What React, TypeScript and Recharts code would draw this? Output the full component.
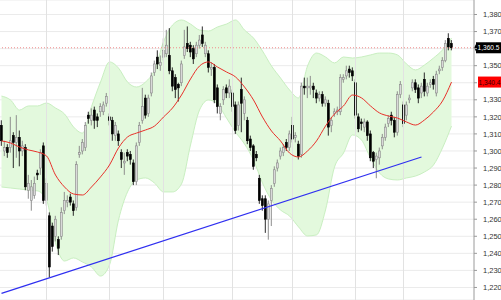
import React from 'react';
import { ComposedChart, Bar, Line, Area, XAxis, YAxis, CartesianGrid, ReferenceLine } from 'recharts';

const opens = [
  1315, 1300, 1302, 1302, 1309, 1305, 1308, 1300, 1302, 1277,
  1271, 1274, 1287, 1290, 1303, 1271, 1262, 1256, 1250, 1248,
  1250, 1265, 1270, 1273, 1269, 1267, 1298, 1300, 1302, 1321,
  1318, 1324, 1320, 1323, 1323, 1328, 1320, 1318, 1309, 1310,
  1299, 1293, 1299, 1298, 1293, 1282, 1305, 1318, 1331, 1322,
  1334, 1346, 1355, 1350, 1355, 1357, 1356, 1347, 1343, 1339,
  1340, 1356, 1363, 1362, 1360, 1357, 1362, 1368, 1357, 1357,
  1348, 1349, 1337, 1322, 1330, 1337, 1334, 1334, 1327, 1315,
  1336, 1322, 1318, 1307, 1303, 1298, 1284, 1272, 1272, 1260,
  1271, 1281, 1290, 1297, 1299, 1305, 1302, 1315, 1308, 1304,
  1298, 1338, 1337, 1337, 1338, 1334, 1331, 1333, 1328, 1328,
  1315, 1322, 1323, 1323, 1342, 1344, 1348, 1347, 1340, 1320,
  1317, 1314, 1317, 1310, 1299, 1295, 1296, 1303, 1308, 1316,
  1321, 1318, 1311, 1333, 1327, 1321, 1330, 1337, 1340, 1337,
  1334, 1342, 1334, 1339, 1342, 1334, 1347, 1349, 1353, 1366,
  1363,
];
const highs = [
  1318, 1306, 1304, 1320, 1311, 1321, 1312, 1306, 1304, 1286,
  1283, 1285, 1289, 1301, 1305, 1284, 1264, 1258, 1262, 1250,
  1267, 1276, 1274, 1275, 1271, 1294, 1303, 1307, 1317, 1323,
  1325, 1326, 1322, 1328, 1329, 1334, 1322, 1320, 1317, 1312,
  1301, 1299, 1301, 1300, 1295, 1305, 1317, 1337, 1333, 1333,
  1346, 1353, 1359, 1356, 1366, 1371, 1372, 1349, 1345, 1340,
  1353, 1371, 1373, 1364, 1362, 1364, 1368, 1373, 1364, 1359,
  1352, 1351, 1339, 1328, 1338, 1339, 1342, 1336, 1329, 1329,
  1343, 1332, 1320, 1309, 1304, 1300, 1286, 1274, 1274, 1271,
  1280, 1291, 1295, 1302, 1304, 1307, 1312, 1320, 1311, 1306,
  1340, 1343, 1343, 1344, 1340, 1336, 1335, 1335, 1332, 1330,
  1320, 1325, 1326, 1345, 1345, 1350, 1350, 1349, 1342, 1322,
  1319, 1319, 1318, 1312, 1300, 1299, 1302, 1310, 1316, 1321,
  1323, 1320, 1335, 1341, 1329, 1329, 1333, 1342, 1342, 1339,
  1340, 1346, 1340, 1342, 1344, 1347, 1350, 1355, 1365, 1369,
  1365,
];
const lows = [
  1303, 1297, 1296, 1299, 1290, 1296, 1291, 1297, 1277, 1272,
  1265, 1272, 1283, 1286, 1269, 1268, 1226, 1241, 1247, 1239,
  1248, 1263, 1267, 1268, 1262, 1265, 1296, 1298, 1300, 1316,
  1315, 1313, 1314, 1320, 1321, 1326, 1315, 1306, 1306, 1303,
  1290, 1286, 1294, 1292, 1280, 1280, 1303, 1316, 1319, 1320,
  1332, 1344, 1348, 1347, 1353, 1355, 1345, 1335, 1331, 1329,
  1338, 1354, 1358, 1355, 1351, 1355, 1360, 1361, 1355, 1346,
  1344, 1328, 1322, 1318, 1327, 1331, 1331, 1323, 1310, 1312,
  1311, 1318, 1304, 1300, 1289, 1294, 1269, 1265, 1252, 1248,
  1256, 1279, 1288, 1295, 1297, 1300, 1300, 1305, 1305, 1295,
  1296, 1333, 1331, 1333, 1331, 1328, 1329, 1326, 1326, 1309,
  1311, 1320, 1321, 1321, 1340, 1342, 1343, 1341, 1319, 1311,
  1312, 1311, 1306, 1294, 1290, 1284, 1292, 1301, 1306, 1314,
  1315, 1308, 1309, 1331, 1314, 1318, 1328, 1335, 1334, 1328,
  1331, 1332, 1332, 1337, 1336, 1332, 1345, 1347, 1352, 1359,
  1359,
];
const closes = [
  1306, 1302, 1299, 1306, 1305, 1308, 1300, 1303, 1279, 1281,
  1279, 1281, 1286, 1299, 1271, 1281, 1232, 1244, 1260, 1243,
  1264, 1271, 1271, 1270, 1265, 1292, 1299, 1305, 1315, 1319,
  1321, 1318, 1318, 1326, 1327, 1332, 1318, 1310, 1315, 1306,
  1295, 1294, 1297, 1295, 1282, 1303, 1315, 1326, 1321, 1331,
  1344, 1351, 1351, 1352, 1359, 1362, 1347, 1338, 1336, 1337,
  1351, 1361, 1360, 1358, 1354, 1362, 1365, 1363, 1362, 1349,
  1349, 1330, 1326, 1326, 1336, 1334, 1338, 1326, 1312, 1327,
  1328, 1330, 1306, 1302, 1291, 1296, 1271, 1268, 1260, 1269,
  1278, 1289, 1293, 1300, 1302, 1302, 1310, 1307, 1309, 1297,
  1338, 1337, 1338, 1338, 1336, 1331, 1333, 1328, 1330, 1314,
  1318, 1323, 1324, 1343, 1343, 1347, 1346, 1344, 1321, 1313,
  1316, 1317, 1309, 1296, 1294, 1297, 1300, 1308, 1314, 1319,
  1318, 1311, 1333, 1339, 1316, 1327, 1331, 1340, 1336, 1331,
  1338, 1335, 1338, 1340, 1339, 1345, 1348, 1353, 1363, 1361,
  1360.5,
];

const bandIdx = [
  0, 3, 6, 9, 12, 15, 18, 21, 24, 27,
  30, 33, 36, 39, 42, 45, 48, 51, 54, 57,
  60, 63, 66, 69, 72, 75, 78, 81, 84, 87,
  90, 93, 96, 99, 102, 105, 108, 111, 114, 117,
  120, 123, 126, 129, 132, 135, 138, 141, 144, 147,
  150,
];
const upperBand = [
  1332.2, 1329.9, 1324.0, 1326.4, 1326.4, 1328.1, 1325.2, 1321.7, 1314.1, 1310.5,
  1326.0, 1340.4, 1352.2, 1348.6, 1340.4, 1337.5, 1340.4, 1347.5, 1363.9, 1373.8,
  1376.8, 1374.4, 1370.9, 1370.3, 1372.7, 1374.4, 1376.8, 1370.9, 1366.2, 1358.6,
  1349.8, 1342.8, 1335.8, 1331.1, 1349.8, 1357.4, 1355.1, 1351.6, 1355.1, 1354.5,
  1355.1, 1356.3, 1357.4, 1357.4, 1356.3, 1351.0, 1347.5, 1350.4, 1354.5, 1359.2,
  1366.2,
];
const lowerBand = [
  1278.9, 1278.3, 1277.7, 1277.1, 1276.6, 1271.3, 1246.1, 1235.5, 1237.3, 1234.9,
  1232.0, 1226.7, 1233.2, 1259.6, 1276.0, 1283.0, 1284.2, 1281.2, 1276.0, 1276.0,
  1280.7, 1303.5, 1324.0, 1329.9, 1327.5, 1319.3, 1311.1, 1304.1, 1294.7, 1281.2,
  1271.3, 1265.4, 1261.9, 1255.5, 1250.2, 1250.8, 1265.4, 1290.6, 1298.8, 1309.4,
  1306.4, 1295.9, 1287.1, 1283.6, 1283.0, 1284.2, 1285.3, 1287.7, 1291.8, 1301.8,
  1314.6,
];
const maValues = [
  1305.9, 1304.7, 1302.3, 1300.6, 1299.4, 1297.1, 1285.9, 1278.9, 1274.8, 1274.2,
  1278.9, 1284.8, 1291.8, 1301.8, 1308.2, 1310.5, 1312.3, 1314.6, 1319.9, 1325.2,
  1332.8, 1342.2, 1349.8, 1352.2, 1349.2, 1346.3, 1343.4, 1337.5, 1329.9, 1319.9,
  1311.7, 1305.9, 1298.8, 1296.5, 1300.0, 1305.9, 1314.6, 1321.7, 1326.4, 1332.8,
  1331.1, 1326.4, 1322.3, 1320.5, 1319.3, 1317.0, 1315.2, 1318.2, 1322.9, 1329.3,
  1340.4,
];

const trendIdx = [0, 140];
const trendValues = [1216.5, 1296.5];

const yTicks = [1220, 1230, 1240, 1250, 1260, 1270, 1280, 1290, 1300, 1310, 1320, 1330, 1340, 1350, 1360, 1370, 1380];
// tick labels hidden behind the price tags in the reference
const coveredTicks = [1340, 1360];
const monthStarts = [15, 36, 54, 77, 97, 118, 134];
const lastPrice = 1360.5;
const lastPriceLabel = '1,360.5';
const lastMA = 1340.4;
const lastMALabel = '1,340.4';
const SLOTS = 158;
const Y_DOMAIN: [number, number] = [1212.65, 1388.5];

const rows: any[] = Array.from({ length: SLOTS }, (_, i) => {
  const r: any = { i };
  if (i < closes.length) {
    r.o = opens[i];
    r.h = highs[i];
    r.l = lows[i];
    r.c = closes[i];
  }
  return r;
});
bandIdx.forEach((idx, k) => {
  rows[idx].bu = upperBand[k];
  rows[idx].bl = lowerBand[k];
  rows[idx].ma = maValues[k];
});
trendIdx.forEach((idx, k) => {
  rows[idx].tr = trendValues[k];
});

const FONT = 'Liberation Sans, Arial, sans-serif';

const Candle = (props: any) => {
  const { x, y, width, height, payload } = props;
  if (!payload || payload.o == null || !isFinite(y) || !isFinite(height)) return null;
  const { o, h, l, c } = payload;
  const top = Math.min(y, y + height);
  const span = Math.abs(height);
  const ratio = h - l > 0 ? span / (h - l) : 0;
  const cx = x + width / 2;
  const bTop = top + (h - Math.max(o, c)) * ratio;
  const bBot = top + (h - Math.min(o, c)) * ratio;
  const up = c >= o;
  return (
    <g>
      <line x1={cx} x2={cx} y1={top} y2={top + span} stroke={up ? '#8e8e8e' : '#2a2a2a'} strokeWidth={1} />
      <rect
        x={cx - 1}
        y={bTop}
        width={2}
        height={Math.max(1, bBot - bTop)}
        fill={up ? '#d9d9d9' : '#000000'}
        stroke={up ? '#8a8a8a' : '#000000'}
        strokeWidth={0.6}
      />
    </g>
  );
};

const AxisTick = (props: any) => {
  const { x, y, payload } = props;
  if (!payload || coveredTicks.includes(payload.value)) return <g />;
  return (
    <text x={x} y={y} dy="0.355em" textAnchor="start" fontSize={7.5} fontFamily={FONT} fill="#333333">
      {Number(payload.value).toLocaleString('en-US')}
    </text>
  );
};

const PriceTag = (props: any) => {
  const { viewBox, text, bg, color, arrow } = props;
  if (!viewBox) return null;
  const xr = viewBox.x + viewBox.width;
  const yc = viewBox.y;
  return (
    <g>
      {arrow ? <polygon points={`${xr},${yc} ${xr + 3},${yc - 5.5} ${xr + 3},${yc + 5.5}`} fill={bg} /> : null}
      <rect x={xr + (arrow ? 2 : 4)} y={yc - 5.5} width={32} height={11} fill={bg} />
      <text x={xr + (arrow ? 3.5 : 4.5)} y={yc + 2.6} fontSize={6.6} fontFamily={FONT} fill={color}>
        {text}
      </text>
    </g>
  );
};

export default function App() {
  return (
    <div style={{ position: 'absolute', left: 0, top: 0, width: 501, height: 300, background: '#ffffff' }}>
      <ComposedChart width={501} height={300} data={rows} margin={{ top: 0, right: 0, bottom: 0, left: 0 }}>
        <CartesianGrid vertical={false} stroke="#ebebeb" />
        <XAxis dataKey="i" type="category" hide />
        <YAxis
          orientation="right"
          width={27}
          domain={Y_DOMAIN}
          allowDataOverflow
          ticks={yTicks}
          interval={0}
          tickSize={3}
          tickMargin={6}
          axisLine={{ stroke: '#9a9a9a' }}
          tickLine={{ stroke: '#9a9a9a' }}
          tick={<AxisTick />}
        />
        {monthStarts.map((m) => (
          <ReferenceLine key={'m' + m} x={m} stroke="#e2e2e2" strokeWidth={1} />
        ))}
        <Area
          dataKey={(d: any) => (d.bu == null ? null : [d.bl, d.bu])}
          type="monotone"
          connectNulls
          fill="#e3f9dd"
          fillOpacity={1}
          stroke="#c9efc1"
          strokeWidth={1}
          isAnimationActive={false}
          dot={false}
          activeDot={false}
        />
        <ReferenceLine y={lastPrice} stroke="#f08a8a" strokeDasharray="1 2" strokeWidth={1} />
        <Bar dataKey={(d: any) => (d.o == null ? null : [d.l, d.h])} shape={<Candle />} isAnimationActive={false} />
        <Line
          dataKey="ma"
          type="monotone"
          connectNulls
          stroke="#e8302a"
          strokeWidth={1}
          dot={false}
          activeDot={false}
          isAnimationActive={false}
        />
        <Line
          dataKey="tr"
          type="linear"
          connectNulls
          stroke="#2f2ff0"
          strokeWidth={1.2}
          dot={false}
          activeDot={false}
          isAnimationActive={false}
        />
        <ReferenceLine
          y={lastPrice}
          stroke="none"
          label={<PriceTag text={lastPriceLabel} bg="#000000" color="#ffffff" arrow />}
        />
        <ReferenceLine
          y={lastMA}
          stroke="none"
          label={<PriceTag text={lastMALabel} bg="#ff0000" color="#3a0000" />}
        />
      </ComposedChart>
    </div>
  );
}
